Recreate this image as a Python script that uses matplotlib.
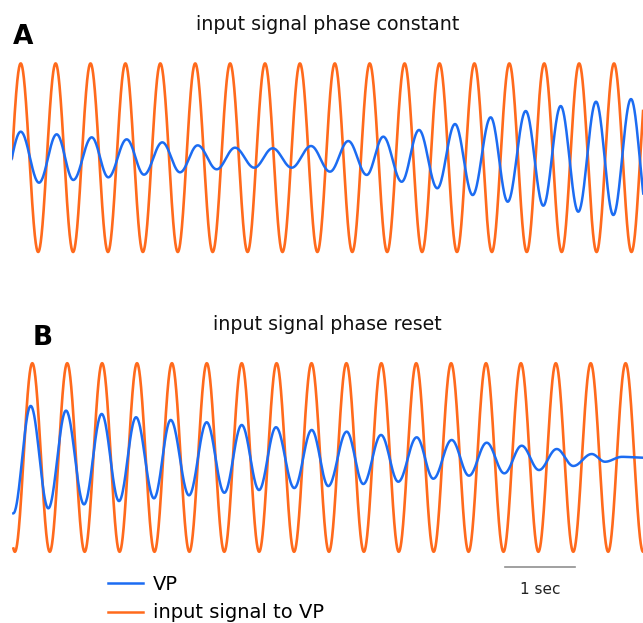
import numpy as np
import matplotlib.pyplot as plt
from matplotlib.lines import Line2D

# input drive: 2 Hz sinusoid, unit amplitude
input_freq = 2.0
input_peak_time = [0.125, 0.291]   # first crest (s) in panel A / panel B
input_onset = [0.0, 0.02]          # where the trace starts (s)

# VP response, read as successive crest/trough times (s) and values
# (relative to the input amplitude)
vp_a_times = [-0.125, 0.125, 0.387, 0.640, 0.878, 1.142, 1.380, 1.643, 1.891,
              2.153, 2.407, 2.660, 2.933, 3.195, 3.471, 3.735, 4.007, 4.284,
              4.556, 4.818, 5.082, 5.319, 5.583, 5.831, 6.093, 6.347, 6.600,
              6.858, 7.102, 7.360, 7.612, 7.861, 8.113, 8.367, 8.615, 8.868,
              9.119]
vp_a_values = [-0.26, 0.276, -0.265, 0.248, -0.236, 0.216, -0.208, 0.195, -0.180,
               0.163, -0.155, 0.131, -0.123, 0.106, -0.106, 0.100, -0.106, 0.124,
               -0.148, 0.177, -0.183, 0.223, -0.255, 0.294, -0.324, 0.357, -0.396,
               0.428, -0.467, 0.495, -0.509, 0.548, -0.573, 0.594, -0.608, 0.622,
               -0.64]

vp_b_times = [0.019, 0.268, 0.520, 0.774, 1.032, 1.285, 1.533, 1.777, 2.034,
              2.274, 2.536, 2.789, 3.042, 3.291, 3.539, 3.782, 4.044, 4.294,
              4.531, 4.795, 5.033, 5.287, 5.534, 5.798, 6.036, 6.299, 6.547,
              6.801, 7.053, 7.302, 7.550, 7.804, 8.042, 8.305, 8.496, 8.739,
              9.040]
vp_b_values = [-0.592, 0.547, -0.539, 0.497, -0.497, 0.462, -0.462, 0.427, -0.433,
               0.398, -0.401, 0.374, -0.374, 0.345, -0.345, 0.321, -0.324, 0.292,
               -0.303, 0.274, -0.281, 0.239, -0.257, 0.214, -0.225, 0.186, -0.193,
               0.157, -0.168, 0.125, -0.133, 0.090, -0.090, 0.037, -0.045, 0.007,
               -0.002]

panel_letters = ['A', 'B']
panel_titles = ['input signal phase constant', 'input signal phase reset']
legend_labels = ['VP', 'input signal to VP']
scale_bar_sec = 1.0

VP_COLOR = '#1c6cf2'
INPUT_COLOR = '#ff6a1c'
W, H = 643, 623


def px_rect(left, top, right, bottom):
    return [left / W, 1 - bottom / H, (right - left) / W, (bottom - top) / H]


def smooth_through(times, values, n=40):
    # half-cosine segments between successive extrema
    t_out, v_out = [], []
    for i in range(len(times) - 1):
        s = np.linspace(0, 1, n, endpoint=False)
        w = (1 - np.cos(np.pi * s)) / 2
        t_out.append(times[i] + (times[i + 1] - times[i]) * s)
        v_out.append(values[i] + (values[i + 1] - values[i]) * w)
    t_out.append([times[-1]])
    v_out.append([values[-1]])
    return np.concatenate(t_out), np.concatenate(v_out)


def draw_panel(ax, idx, vp_times, vp_values):
    t = np.linspace(input_onset[idx], 9.2, 4000)
    drive = np.cos(2 * np.pi * input_freq * (t - input_peak_time[idx]))
    ax.plot(t, drive, color=INPUT_COLOR, lw=1.9, label=legend_labels[1])
    vt, vv = smooth_through(vp_times, vp_values)
    ax.plot(vt, vv, color=VP_COLOR, lw=1.8, label=legend_labels[0])
    ax.set_xlim(0, 631 / 69.8)
    ax.set_ylim(-1.1, 1.1)
    ax.axis('off')


def main():
    plt.rcParams['font.family'] = ['DejaVu Sans']
    fig = plt.figure(figsize=(W / 100, H / 100), dpi=100)

    ax_a = fig.add_axes(px_rect(12, 54.0, 643, 261.4))
    ax_b = fig.add_axes(px_rect(12, 353.8, 643, 561.2))
    draw_panel(ax_a, 0, vp_a_times, vp_a_values)
    draw_panel(ax_b, 1, vp_b_times, vp_b_values)

    # panel letters and titles
    fig.text(13 / W, 1 - 43.5 / H, panel_letters[0], fontsize=19, fontweight='bold')
    fig.text(33 / W, 1 - 345 / H, panel_letters[1], fontsize=19, fontweight='bold')
    fig.text(327.5 / W, 1 - 30 / H, panel_titles[0], ha='center', va='baseline',
             fontsize=13.7, color='#111111')
    fig.text(327.5 / W, 1 - 330 / H, panel_titles[1], ha='center', va='baseline',
             fontsize=13.7, color='#111111')

    # time scale bar under panel B
    x0 = (505 - 12) / 69.8
    ax_b.plot([x0, x0 + scale_bar_sec], [-1.159, -1.159], color='#909090',
              lw=1.2, clip_on=False)
    ax_b.text(x0 + scale_bar_sec / 2, -1.4, '1 sec', ha='center', va='center',
              fontsize=11, color='#222222', clip_on=False)

    handles = [Line2D([], [], color=VP_COLOR, lw=1.8),
               Line2D([], [], color=INPUT_COLOR, lw=1.8)]
    fig.legend(handles, legend_labels, loc='center left',
               bbox_to_anchor=(108 / W, 1 - 598.5 / H), frameon=False,
               fontsize=14, handlelength=1.8, handletextpad=0.5,
               labelspacing=0.5, borderpad=0, borderaxespad=0)

    fig.savefig('out.png', dpi=100)


if __name__ == '__main__':
    main()
